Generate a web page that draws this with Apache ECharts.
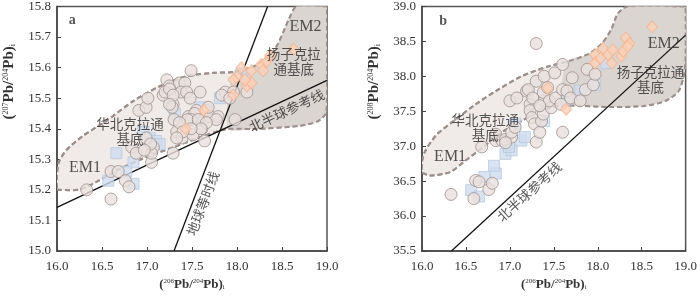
<!DOCTYPE html>
<html><head><meta charset="utf-8">
<script src="https://cdn.jsdelivr.net/npm/echarts@6/dist/echarts.min.js"></script>
<style>html,body{margin:0;padding:0;background:#fff}#c{width:700px;height:297px}</style>
</head><body><div id="c"></div>
<script>
// ---------- DATA ----------
// Panel a: 206Pb/204Pb vs 207Pb/204Pb
var xTicksA = [16.0, 16.5, 17.0, 17.5, 18.0, 18.5, 19.0];
var yTicksA = [15.0, 15.1, 15.2, 15.3, 15.4, 15.5, 15.6, 15.7, 15.8];
var circlesA = [
 [16.33,15.20],[16.60,15.17],[16.60,15.26],[16.68,15.26],[16.76,15.23],[16.80,15.21],
 [16.83,15.34],[16.88,15.32],[16.91,15.46],[16.99,15.47],[17.01,15.50],[17.05,15.29],
 [17.07,15.34],[17.05,15.32],[16.99,15.37],[17.18,15.51],[17.22,15.56],[17.25,15.54],
 [17.29,15.48],[17.29,15.32],[17.30,15.43],[17.33,15.39],[17.36,15.55],[17.42,15.55],
 [17.38,15.52],[17.44,15.52],[17.49,15.59],[17.39,15.37],[17.46,15.44],[17.51,15.38],
 [17.55,15.46],[17.59,15.52],[17.61,15.40],[17.66,15.46],[17.70,15.44],[17.79,15.44],
 [17.68,15.47],[17.48,15.50],[17.87,15.52],[17.96,15.52],[17.98,15.43],[18.11,15.52],
 [17.20,15.52],[17.25,15.53],[17.29,15.51],[17.28,15.47],[17.25,15.48],[17.53,15.45],
 [17.49,15.43],[17.45,15.43],[17.57,15.43],[17.77,15.43],[17.66,15.42],[17.60,15.40],
 [17.49,15.40],[17.36,15.42],[17.40,15.39],[17.33,15.37],[17.64,15.36],[17.83,15.51],
 [17.92,15.50],[17.04,15.35],[16.97,15.33]
];
var squaresA = [
 [16.57,15.23],[16.66,15.32],[16.85,15.29],[16.77,15.26],[16.85,15.22],[16.96,15.39],
 [17.03,15.37],[17.10,15.36],[17.14,15.35],[17.31,15.45],[17.59,15.47],[17.81,15.50],
 [17.62,15.44],[18.05,15.58]
];
var diamondsA = [
 [17.43,15.40],[17.63,15.46],[17.96,15.51],[18.00,15.57],[18.05,15.60],[18.11,15.54],
 [18.16,15.55],[18.16,15.59],[18.09,15.56],[18.27,15.61],[18.33,15.62],[18.29,15.59],
 [18.37,15.64],[18.63,15.66],[17.96,15.56]
];
var nhrlA = [[16.0,15.143],[19.0,15.558]];
var geochronA = [[17.30,15.0],[18.34,15.8]];
var fieldA = [
 [16.0,15.20],[16.0,15.20],[16.25,15.201],[16.47,15.231],[16.70,15.269],[16.99,15.307],[17.29,15.339],
 [17.59,15.372],[17.88,15.399],[18.18,15.399],[18.70,15.41],[18.90,15.425],[18.985,15.45],
 [19.0,15.5],[19.0,15.8],[19.0,15.8],[18.66,15.8],[18.58,15.76],[18.42,15.66],[18.20,15.606],[17.96,15.586],
 [17.74,15.583],[17.44,15.572],[17.14,15.539],[16.85,15.491],[16.55,15.426],[16.29,15.377],
 [16.10,15.329],[16.02,15.29],[16.0,15.25]
];
var yangtzeA = [
 [17.90,15.40],[18.18,15.399],[18.70,15.41],[18.90,15.425],[18.985,15.45],
 [19.0,15.5],[19.0,15.8],[19.0,15.8],[18.66,15.8],[18.58,15.76],[18.42,15.66],[18.20,15.606],[17.96,15.586]
];
var labelsA = [
 [16.17,15.755,'a'],[18.76,15.734,'EM2'],[18.63,15.62,'扬子克拉\n通基底'],
 [16.81,15.39,'华北克拉通\n基底'],[16.31,15.273,'EM1']
];
var lineLabelsA = [[18.55,15.46,'北半球参考线',25],[17.62,15.156,'地球等时线',69]];

// Panel b: 206Pb/204Pb vs 208Pb/204Pb
var xTicksB = [16.0, 16.5, 17.0, 17.5, 18.0, 18.5, 19.0];
var yTicksB = [35.5, 36.0, 36.5, 37.0, 37.5, 38.0, 38.5, 39.0];
var circlesB = [
 [16.33,36.31],[16.59,36.25],[16.61,36.51],[16.65,36.49],[16.76,36.38],[16.80,36.47],
 [16.68,36.99],[16.84,37.08],[16.84,37.17],[16.91,37.08],[16.95,37.10],[17.02,37.13],
 [17.00,37.65],[17.08,37.69],[17.02,37.20],[17.06,37.27],[17.19,37.79],[17.21,37.81],
 [17.23,37.60],[17.23,37.51],[17.25,37.41],[17.30,38.47],[17.30,37.93],[17.28,37.32],
 [17.30,37.06],[17.34,37.20],[17.36,37.36],[17.38,37.46],[17.39,37.65],[17.38,37.77],
 [17.39,38.00],[17.47,37.55],[17.45,37.65],[17.51,38.05],[17.52,37.69],[17.60,38.17],
 [17.60,37.81],[17.60,37.20],[17.65,37.79],[17.69,37.69],[17.71,37.98],[17.80,37.65],
 [17.86,37.81],[17.88,38.10],[17.95,37.88],[17.97,38.03],[17.43,37.84],[17.58,37.60],
 [17.26,37.69],[16.95,37.05],[17.34,37.58]
];
var squaresB = [
 [16.56,36.37],[16.65,36.28],[16.71,36.56],[16.84,36.61],[16.82,36.72],[16.95,36.89],
 [17.02,36.94],[17.13,37.08],[17.17,37.13],[17.39,37.36],[17.65,37.67],[17.80,37.79],
 [17.97,37.88],[18.10,38.19],[17.06,37.32],[16.99,36.99]
];
var diamondsB = [
 [17.43,37.83],[17.64,37.53],[17.97,38.31],[17.97,38.19],[18.03,38.26],[18.06,38.40],
 [18.12,38.31],[18.16,38.19],[18.17,38.38],[18.27,38.29],[18.29,38.36],[18.32,38.55],
 [18.36,38.47],[18.34,38.43],[18.62,38.71]
];
var nhrlB = [[16.335,35.5],[19.0,38.59]];
var fieldB = [
 [16.0,36.62],[16.0,36.62],[16.09,36.58],[16.32,36.63],[16.50,36.80],[16.69,36.98],
 [16.87,37.17],[17.13,37.36],[17.36,37.51],[17.58,37.58],[17.80,37.58],[18.17,37.56],
 [18.55,37.58],[18.77,37.65],[18.92,37.79],[18.985,38.05],[19.0,38.3],[19.0,39.0],[19.0,39.0],[18.34,39.0],
 [18.23,38.90],[18.15,38.66],[18.04,38.46],[17.88,38.31],[17.65,38.21],[17.43,38.14],
 [17.13,38.00],[16.84,37.79],[16.61,37.60],[16.39,37.39],[16.17,37.17],[16.04,36.94],[16.0,36.78]
];
var yangtzeB = [
 [17.58,37.58],[17.80,37.58],[18.17,37.56],[18.55,37.58],[18.77,37.65],[18.92,37.79],
 [18.985,38.05],[19.0,38.3],[19.0,39.0],[19.0,39.0],[18.34,39.0],[18.23,38.90],[18.15,38.66],[18.04,38.46],
 [17.88,38.31],[17.65,38.21]
];
var labelsB = [
 [16.24,38.79,'b'],[18.75,38.47,'EM2'],[18.6,37.95,'扬子克拉通\n基底'],
 [16.72,37.27,'华北克拉通\n基底'],[16.32,36.85,'EM1']
];
var lineLabelsB = [[17.22,36.35,'北半球参考线',42]];

// ---------- STYLES ----------
var SERIF = '"Liberation Serif","DejaVu Serif",serif';
var CJK = '"Noto Sans CJK SC",sans-serif';
var circleStyle = {color:'#e8e0dd', borderColor:'#9e918d', borderWidth:1};
var squareStyle = {color:'#cfdced', borderColor:'#b6c9e0', borderWidth:1};
var diamondStyle = {color:'#fbd1b8', borderColor:'#f3b490', borderWidth:1};

function polySeries(idx, pts, fill, dashed, z) {
  return {
    type:'custom', xAxisIndex:idx, yAxisIndex:idx, z:z, silent:true, clip:true,
    data:[[pts[0][0], pts[0][1]]],
    renderItem:function(params, api){
      return {type:'polygon',
        shape:{points:pts.map(function(p){return api.coord(p);}), smooth:0.25},
        style: dashed ? {fill:fill, stroke:'#9d8f8b', lineWidth:2, lineDash:[5,3]} : {fill:fill, stroke:null}
      };
    }
  };
}
function lineSeries(idx, pts) {
  return {type:'line', xAxisIndex:idx, yAxisIndex:idx, data:pts, symbol:'none', z:3, silent:true,
    lineStyle:{color:'#111', width:1.3}};
}
function scatterSeries(idx, pts, sym, size, st, z) {
  return {type:'scatter', xAxisIndex:idx, yAxisIndex:idx, data:pts, symbol:sym, symbolSize:size,
    itemStyle:st, z:z, silent:true};
}
function textSeries(idx, labs, withRot) {
  return {type:'scatter', xAxisIndex:idx, yAxisIndex:idx, symbolSize:0, z:10, silent:true,
    data:labs.map(function(l){
      var isLetter = (l[2]==='a'||l[2]==='b');
      var isEM = /^EM/.test(l[2]);
      return {value:[l[0],l[1]], label:{show:true, position:'inside', formatter:l[2],
        rotate: withRot ? l[3] : 0,
        fontFamily: (isLetter||isEM) ? SERIF : CJK,
        fontWeight: isLetter ? 'bold' : 'normal',
        fontSize: isLetter ? 14 : (isEM ? 16 : 13.5),
        lineHeight: 15, color:'#2a2a2a'}};
    })};
}
function richFor(sz, sup, padLeft) {
  return {
    n:{fontFamily:SERIF, fontSize:sz, fontWeight:'bold', color:'#333'},
    s:{fontFamily:SERIF, fontSize:sup, color:'#333', verticalAlign:'top', padding:[0,0,Math.round(sz*0.45),0]},
    i:{fontFamily:SERIF, fontSize:sup, color:'#333', verticalAlign:'bottom', padding:[Math.round(sz*0.45),0,0,0]},
    g:{width:padLeft}
  };
}
function xAx(idx, ticks) {
  return {type:'value', gridIndex:idx, min:ticks[0], max:ticks[ticks.length-1], interval:0.5,
    name:'{n|(}{s|206}{n|Pb/}{s|204}{n|Pb)}{i|i}', nameLocation:'middle', nameGap:26,
    nameTextStyle:{rich:richFor(13,7,0)},
    axisLine:{show:true, lineStyle:{color:'#444', width:1.5}},
    axisTick:{show:true, inside:true, length:4, lineStyle:{color:'#444'}},
    axisLabel:{fontFamily:SERIF, fontSize:13, color:'#333', margin:9,
      formatter:function(v){return v.toFixed(1);}},
    splitLine:{show:false}};
}
function yAx(idx, ticks, iv, nm) {
  return {type:'value', gridIndex:idx, min:ticks[0], max:ticks[ticks.length-1], interval:iv,
    name:'{g|}{n|(}{s|'+nm+'}{n|Pb/}{s|204}{n|Pb)}{i|i}', nameLocation:'middle', nameGap:40,
    nameTextStyle:{rich:richFor(15,8,94)},
    axisLine:{show:true, lineStyle:{color:'#444', width:1.5}},
    axisTick:{show:true, inside:true, length:4, lineStyle:{color:'#444'}},
    axisLabel:{fontFamily:SERIF, fontSize:13, color:'#333', margin:6,
      formatter:function(v){return v.toFixed(1);}},
    splitLine:{show:false}};
}

var chart = echarts.init(document.getElementById('c'), null, {renderer:'canvas'});
chart.setOption({
  animation:false,
  grid:[
    {left:57, right:373, top:5, bottom:46, show:true, borderColor:'#555', borderWidth:1.5},
    {left:422, right:9, top:5, bottom:46, show:true, borderColor:'#555', borderWidth:1.5}
  ],
  xAxis:[xAx(0,xTicksA), xAx(1,xTicksB)],
  yAxis:[yAx(0,yTicksA,0.1,'207'), yAx(1,yTicksB,0.5,'208')],
  series:[
    polySeries(0, fieldA, '#f0ebe9', true, 1),
    polySeries(0, yangtzeA, '#dbd5d2', false, 1.5),
    polySeries(0, fieldA, 'rgba(0,0,0,0)', true, 1.6),
    lineSeries(0, nhrlA), lineSeries(0, geochronA),
    scatterSeries(0, squaresA, 'rect', 11, squareStyle, 4),
    scatterSeries(0, circlesA, 'circle', 12, circleStyle, 5),
    scatterSeries(0, diamondsA, 'diamond', [11,12], diamondStyle, 6),
    textSeries(0, labelsA, false), textSeries(0, lineLabelsA, true),

    polySeries(1, fieldB, '#f0ebe9', true, 1),
    polySeries(1, yangtzeB, '#dbd5d2', false, 1.5),
    polySeries(1, fieldB, 'rgba(0,0,0,0)', true, 1.6),
    lineSeries(1, nhrlB),
    scatterSeries(1, squaresB, 'rect', 11, squareStyle, 4),
    scatterSeries(1, circlesB, 'circle', 12, circleStyle, 5),
    scatterSeries(1, diamondsB, 'diamond', [11,12], diamondStyle, 6),
    textSeries(1, labelsB, false), textSeries(1, lineLabelsB, true)
  ]
});
</script></body></html>
